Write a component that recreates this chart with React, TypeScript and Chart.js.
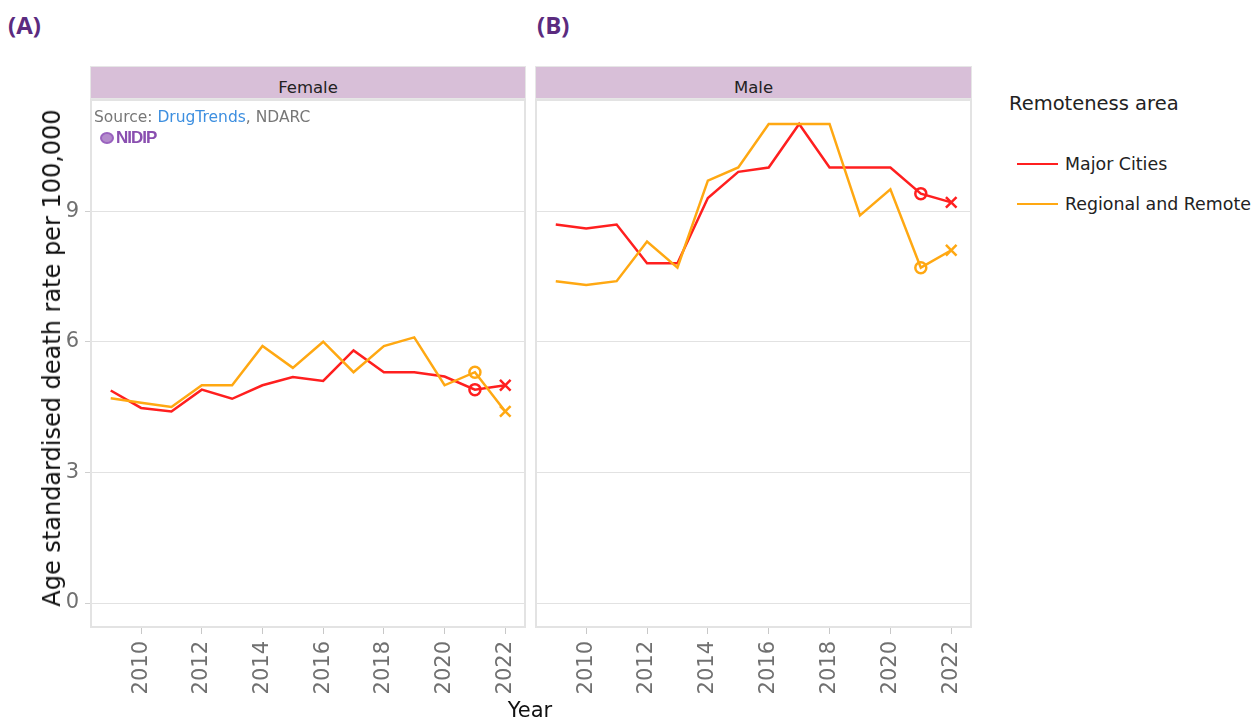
import React, { useEffect, useRef } from "react";
import { Chart, registerables } from "chart.js";

Chart.register(...registerables);

const years = [2009, 2010, 2011, 2012, 2013, 2014, 2015, 2016, 2017, 2018, 2019, 2020, 2021, 2022];
const femaleMajorCities = [4.88, 4.48, 4.4, 4.9, 4.69, 5.0, 5.19, 5.1, 5.8, 5.3, 5.3, 5.2, 4.9, 5.0];
const femaleRegionalRemote = [4.7, 4.6, 4.5, 5.0, 5.0, 5.9, 5.4, 6.0, 5.3, 5.9, 6.1, 5.0, 5.3, 4.4];
const maleMajorCities = [8.69, 8.6, 8.69, 7.8, 7.8, 9.3, 9.9, 10.0, 11.0, 10.0, 10.0, 10.0, 9.4, 9.2];
const maleRegionalRemote = [7.39, 7.3, 7.39, 8.3, 7.7, 9.7, 10.0, 11.0, 11.0, 11.0, 8.9, 9.5, 7.7, 8.1];
const xTicks = [2010, 2012, 2014, 2016, 2018, 2020, 2022];
const yTicks = [0, 3, 6, 9];
const seriesNames = ["Major Cities", "Regional and Remote"];
const seriesColors = ["#ff1f1f", "#ffa812"];

const FONT = "'DejaVu Sans', Verdana, sans-serif";

const borderPlugin = {
  id: "panelBorder",
  afterDraw(chart: any) {
    const { ctx, chartArea } = chart;
    ctx.save();
    ctx.strokeStyle = "#e3e3e3";
    ctx.lineWidth = 2;
    ctx.strokeRect(chartArea.left, chartArea.top, chartArea.right - chartArea.left, chartArea.bottom - chartArea.top);
    ctx.restore();
  },
};

function makeDataset(label: string, values: number[], color: string, order: number) {
  const n = values.length;
  return {
    label,
    data: years.map((y, i) => ({ x: y, y: values[i] })),
    borderColor: color,
    backgroundColor: color,
    borderWidth: 2.5,
    pointRadius: values.map((_, i) => (i === n - 2 ? 5.5 : i === n - 1 ? 7.5 : 0)),
    pointStyle: values.map((_, i) => (i === n - 1 ? "crossRot" : "circle")),
    pointBorderWidth: 2.5,
    pointBorderColor: color,
    pointBackgroundColor: "rgba(255,255,255,0)",
    tension: 0,
    order,
  };
}

function Panel(props: { left: number; width: number; yAxisWidth: number; showY: boolean; major: number[]; regional: number[] }) {
  const ref = useRef<HTMLCanvasElement | null>(null);
  useEffect(() => {
    if (!ref.current) return;
    const chart = new Chart(ref.current, {
      type: "line",
      data: {
        datasets: [
          makeDataset(seriesNames[0], props.major, seriesColors[0], 1),
          makeDataset(seriesNames[1], props.regional, seriesColors[1], 0),
        ],
      },
      options: {
        responsive: false,
        animation: false,
        layout: { autoPadding: false, padding: { top: 5, right: 5, left: 0, bottom: 0 } },
        plugins: { legend: { display: false }, tooltip: { enabled: false } },
        scales: {
          x: {
            type: "linear",
            min: 2008.35,
            max: 2022.65,
            afterBuildTicks: (s: any) => {
              s.ticks = xTicks.map((v) => ({ value: v }));
            },
            afterFit: (s: any) => {
              s.height = 92;
              s.paddingLeft = 0;
              s.paddingRight = 0;
            },
            grid: { drawOnChartArea: false, tickLength: 7, color: "#d0d0d0", tickColor: "#c8c8c8" },
            border: { display: false },
            ticks: {
              minRotation: 90,
              maxRotation: 90,
              padding: 7,
              color: "#707070",
              font: { family: FONT, size: 21 },
              callback: (v: any) => String(v),
            },
          },
          y: {
            type: "linear",
            min: -0.55,
            max: 11.55,
            afterBuildTicks: (s: any) => {
              s.ticks = yTicks.map((v) => ({ value: v }));
            },
            afterFit: (s: any) => {
              s.width = props.yAxisWidth;
              s.paddingTop = 0;
              s.paddingBottom = 0;
            },
            grid: {
              color: "#e2e2e2",
              tickColor: "#cfcfcf",
              tickLength: props.showY ? 6 : 0,
              drawTicks: props.showY,
            },
            border: { display: false },
            ticks: {
              display: props.showY,
              padding: 6,
              color: "#707070",
              font: { family: FONT, size: 21 },
            },
          },
        },
      } as any,
      plugins: [borderPlugin],
    });
    return () => chart.destroy();
  }, []);
  return (
    <canvas
      ref={ref}
      width={props.width}
      height={624}
      style={{ position: "absolute", left: props.left, top: 95, width: props.width, height: 624 }}
    />
  );
}

const stripStyle: React.CSSProperties = {
  position: "absolute",
  top: 66,
  height: 33,
  paddingTop: 9,
  background: "#d8bfd8",
  border: "1px solid #e6e6e6",
  boxSizing: "border-box",
  display: "flex",
  alignItems: "center",
  justifyContent: "center",
  fontFamily: FONT,
  fontSize: 16.5,
  color: "#222",
};

export default function App() {
  useEffect(() => {
    document.body.style.margin = "0";
  }, []);
  return (
    <div style={{ position: "fixed", left: 0, top: 0, width: 1252, height: 719, background: "#fff", overflow: "hidden" }}>
      <div style={{ position: "absolute", left: 8, top: 8, fontFamily: "'Open Sans', sans-serif", fontWeight: 700, fontSize: 24, color: "#5b2b7f" }}>(A)</div>
      <div style={{ position: "absolute", left: 537, top: 8, fontFamily: "'Open Sans', sans-serif", fontWeight: 700, fontSize: 24, color: "#5b2b7f" }}>(B)</div>

      <Panel left={0} width={530} yAxisWidth={91} showY={true} major={femaleMajorCities} regional={femaleRegionalRemote} />
      <Panel left={530} width={446} yAxisWidth={6} showY={false} major={maleMajorCities} regional={maleRegionalRemote} />

      <div style={{ ...stripStyle, left: 90, width: 436 }}>Female</div>
      <div style={{ ...stripStyle, left: 535, width: 437 }}>Male</div>

      <div style={{ position: "absolute", left: 94, top: 108, fontFamily: FONT, fontSize: 15.5, color: "#777", whiteSpace: "nowrap" }}>
        Source: <span style={{ color: "#3d8fe0" }}>DrugTrends</span>, NDARC
      </div>
      <div style={{ position: "absolute", left: 100, top: 128, display: "flex", alignItems: "center", fontFamily: "'Liberation Sans', Arial, sans-serif", fontWeight: 700, fontSize: 17, color: "#8a4fb0", letterSpacing: -1 }}>
        <span style={{ display: "inline-block", width: 14, height: 12, borderRadius: "50%", background: "#b48ccc", border: "2px solid #9a63bf", boxSizing: "border-box", marginRight: 2 }} />
        NIDIP
      </div>

      <div
        style={{
          position: "absolute",
          left: 52,
          top: 358,
          transform: "translate(-50%, -50%) rotate(-90deg)",
          whiteSpace: "nowrap",
          fontFamily: FONT,
          fontSize: 24,
          color: "#111",
        }}
      >
        Age standardised death rate per 100,000
      </div>
      <div style={{ position: "absolute", left: 530, top: 710, transform: "translate(-50%, -50%)", fontFamily: FONT, fontSize: 21, color: "#111" }}>Year</div>

      <div style={{ position: "absolute", left: 1009, top: 92, fontFamily: FONT, fontSize: 19.5, color: "#222", whiteSpace: "nowrap" }}>Remoteness area</div>
      {seriesNames.map((name, i) => (
        <div key={name} style={{ position: "absolute", left: 1017, top: 154 + i * 40, display: "flex", alignItems: "center", whiteSpace: "nowrap" }}>
          <span style={{ display: "inline-block", width: 41, height: 2.5, background: seriesColors[i], marginRight: 7 }} />
          <span style={{ fontFamily: FONT, fontSize: 17.4, color: "#222" }}>{name}</span>
        </div>
      ))}
    </div>
  );
}
